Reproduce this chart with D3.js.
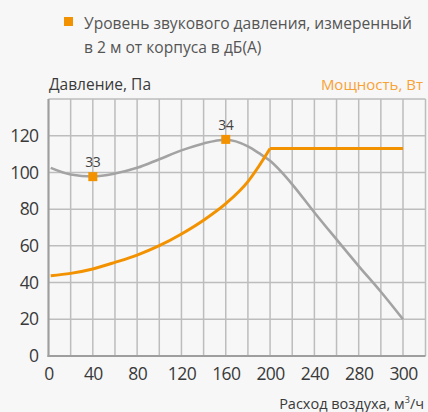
<!DOCTYPE html>
<html>
<head>
<meta charset="utf-8">
<script src="https://cdn.jsdelivr.net/npm/d3@7"></script>
<style>
  html, body { margin: 0; padding: 0; background: #f7f7f7; }
  svg { display: block; font-family: "Open Sans", sans-serif; }
</style>
</head>
<body>
<div id="wrapper"></div>
<script>
// pressure curve (Па) by air flow (м³/ч)
const pressureX = [2, 20, 40, 60, 80, 100, 120, 140, 160, 180, 190, 200, 210, 220, 240, 260, 280, 290, 300];
const pressureY = [102.5, 98.9, 97.8, 99.4, 102.5, 107.2, 112, 115.8, 117.8, 114.2, 110.5, 106.3, 100.4, 93.5, 78.2, 63.5, 49, 35, 20];
// power curve (Вт)
const powerX = [2, 20, 40, 60, 80, 100, 120, 140, 160, 180, 190, 200];
const powerY = [43.7, 45, 47.4, 51, 55, 60.1, 66.5, 74, 83, 95, 103.5, 113];
const powerFlatX = [200, 300];
const powerFlatY = [113, 113];
// sound pressure points
const soundX = [40, 160];
const soundY = [97.7, 118];
const soundLabels = ["33", "34"];

const xTicks = [0, 40, 80, 120, 160, 200, 240, 280, 300];
const xGrid = [0, 20, 40, 60, 80, 100, 120, 140, 160, 180, 200, 220, 240, 260, 280, 290, 300, 310];
const yTicks = [0, 20, 40, 60, 80, 100, 120];
const yGrid = [20, 40, 60, 80, 100, 120, 140];

const width = 428, height = 412;
const orange = "#f39200";
const grey = "#a3a3a3";

const svg = d3.select("#wrapper").append("svg")
    .attr("width", width)
    .attr("height", height);

// the last grid step is labelled 300, so the scale is piecewise
const xScale = d3.scaleLinear()
    .domain([0, 280, 300, 310])
    .range([48.5, 358.7, 403, 425.5]);
const yScale = d3.scaleLinear()
    .domain([0, 140])
    .range([356, 99]);

// grid
svg.append("g").selectAll("line")
    .data(xGrid)
    .enter().append("line")
    .attr("x1", d => xScale(d)).attr("x2", d => xScale(d))
    .attr("y1", yScale(140)).attr("y2", yScale(0))
    .attr("stroke", "#bdbdbd").attr("stroke-width", 1.5);
svg.append("g").selectAll("line")
    .data(yGrid)
    .enter().append("line")
    .attr("x1", xScale(0)).attr("x2", xScale(310))
    .attr("y1", d => yScale(d)).attr("y2", d => yScale(d))
    .attr("stroke", "#bdbdbd").attr("stroke-width", 1.5);

// axis lines
svg.append("line")
    .attr("x1", xScale(0)).attr("x2", xScale(0))
    .attr("y1", yScale(140)).attr("y2", yScale(0) + 1)
    .attr("stroke", "#9e9e9e").attr("stroke-width", 2);
svg.append("line")
    .attr("x1", xScale(0) - 1).attr("x2", xScale(310))
    .attr("y1", yScale(0)).attr("y2", yScale(0))
    .attr("stroke", "#9e9e9e").attr("stroke-width", 2);

// tick labels
const yAxis = svg.append("g")
    .attr("transform", `translate(${xScale(0)},0)`)
    .call(d3.axisLeft(yScale).tickValues(yTicks).tickSize(0).tickPadding(10));
const xAxis = svg.append("g")
    .attr("transform", `translate(0,${yScale(0)})`)
    .call(d3.axisBottom(xScale).tickValues(xTicks).tickSize(0).tickPadding(11.5));
[yAxis, xAxis].forEach(ax => {
    ax.select(".domain").remove();
    ax.attr("font-family", null).attr("font-size", null);
    ax.selectAll("text")
        .attr("fill", "#3a3a3a")
        .style("font-size", "17.5px")
        .style("letter-spacing", "-0.6px");
});

// curves
const curveLine = d3.line()
    .x(d => xScale(d[0]))
    .y(d => yScale(d[1]))
    .curve(d3.curveMonotoneX);
svg.append("path")
    .attr("d", curveLine(d3.zip(pressureX, pressureY)))
    .attr("fill", "none").attr("stroke", grey).attr("stroke-width", 2.6);

svg.append("path")
    .attr("d", curveLine(d3.zip(powerX, powerY)))
    .attr("fill", "none").attr("stroke", orange).attr("stroke-width", 3);
svg.append("path")
    .attr("d", curveLine.curve(d3.curveLinear)(d3.zip(powerFlatX, powerFlatY)))
    .attr("fill", "none").attr("stroke", orange).attr("stroke-width", 3);

// sound points
const sound = svg.append("g").selectAll("g")
    .data(d3.zip(soundX, soundY, soundLabels))
    .enter().append("g");
sound.append("rect")
    .attr("x", d => xScale(d[0]) - 4.5)
    .attr("y", d => yScale(d[1]) - 4.5)
    .attr("width", 9).attr("height", 9)
    .attr("fill", orange);
sound.append("text")
    .attr("x", d => xScale(d[0]))
    .attr("y", d => yScale(d[1]) - 9.5)
    .attr("text-anchor", "middle")
    .attr("fill", "#444")
    .style("font-size", "14px")
    .style("letter-spacing", "-0.5px")
    .text(d => d[2]);

// titles
svg.append("text")
    .attr("x", 49).attr("y", 90)
    .attr("fill", "#3a3a3a")
    .style("font-size", "15.5px")
    .text("Давление, Па");
svg.append("text")
    .attr("x", 423).attr("y", 90)
    .attr("text-anchor", "end")
    .attr("fill", "#f7a236")
    .style("font-size", "15px")
    .text("Мощность, Вт");
svg.append("text")
    .attr("x", 424).attr("y", 409)
    .attr("text-anchor", "end")
    .attr("fill", "#3a3a3a")
    .style("font-size", "14.5px")
    .html("Расход воздуха, м<tspan dy='-6' font-size='9px'>3</tspan><tspan dy='6'>/ч</tspan>");

// legend
svg.append("rect")
    .attr("x", 64).attr("y", 17)
    .attr("width", 9).attr("height", 9)
    .attr("fill", orange);
const legend = svg.append("text")
    .attr("x", 84).attr("y", 29)
    .attr("fill", "#555")
    .style("font-size", "15.6px");
legend.append("tspan").attr("x", 84).text("Уровень звукового давления, измеренный");
legend.append("tspan").attr("x", 84).attr("dy", 24).text("в 2 м от корпуса в дБ(А)");
</script>
</body>
</html>
